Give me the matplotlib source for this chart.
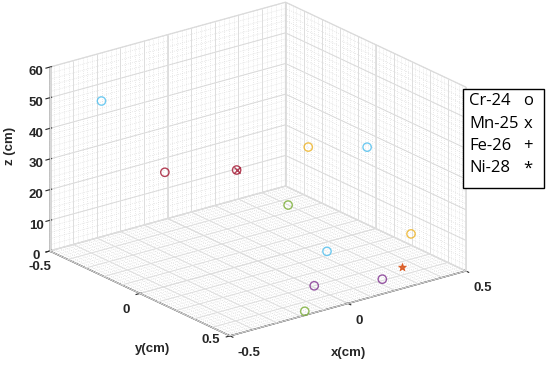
import numpy as np
import matplotlib.pyplot as plt
from matplotlib.patches import Rectangle
from mpl_toolkits.mplot3d.art3d import Line3DCollection

plt.rcParams['font.family'] = ['Liberation Sans', 'DejaVu Sans']

# element legend
elements = ['Cr-24', 'Mn-25', 'Fe-26', 'Ni-28']
symbols = ['o', 'x', '+', '*']

# Cr-24 (circles)
cr_x = [-0.38, -0.18, 0.025, 0.26, 0.33, 0.225, 0.39, 0.24, 0.01, 0.23, -0.16]
cr_y = [-0.37, -0.28, -0.15, -0.06, 0.175, -0.126, 0.34, 0.07, 0.30, 0.39, 0.47]
cr_z = [50, 25, 25, 30, 35, 10, 10, 0, 0, 0, 0]
cr_colors = ['#4DBEEE', '#A2142F', '#A2142F', '#EDB120', '#4DBEEE', '#77AC30',
             '#EDB120', '#4DBEEE', '#7E2F8E', '#7E2F8E', '#77AC30']

# Mn-25 (x)
mn_x = [0.025]
mn_y = [-0.15]
mn_z = [25]

# Ni-28 (*)
ni_x = [0.35]
ni_y = [0.34]
ni_z = [0]

fig = plt.figure(figsize=(5.5, 3.66), dpi=100)
ax = fig.add_axes([-0.1574, -0.0935, 1.23, 1.23], projection='3d', proj_type='ortho')
ax.computed_zorder = False
ax.set_box_aspect((1, 1, 0.664))
ax.view_init(elev=21.1, azim=52.6)
ax.set_xlim(0.5, -0.5)
ax.set_ylim(-0.5, 0.5)
ax.set_zlim(0, 60)

for axis in (ax.xaxis, ax.yaxis, ax.zaxis):
    axis.pane.set_facecolor('white')
    axis.pane.set_edgecolor('#d8d8d8')
    axis.line.set_color('#333333')
    axis.line.set_linewidth(1.0)
    axis._axinfo['grid']['color'] = '#dcdcdc'
    axis._axinfo['grid']['linewidth'] = 0.7

ax.set_xticks([-0.5, 0, 0.5])
ax.set_yticks([-0.5, 0, 0.5])
ax.set_zticks([0, 10, 20, 30, 40, 50, 60])
ax.set_xticklabels(['-0.5', '0', '0.5'])
ax.set_yticklabels(['-0.5', '0', '0.5'])
ax.tick_params(labelsize=9.5, colors='#262626')
ax.xaxis.set_tick_params(pad=-1)
ax.yaxis.set_tick_params(pad=-1)
ax.zaxis.set_tick_params(pad=-2.5)
for lab in ax.get_xticklabels() + ax.get_yticklabels() + ax.get_zticklabels():
    lab.set_fontweight('bold')
for lab in ax.get_xticklabels():
    lab.set_ha('left')
ylabs = ax.get_yticklabels()
ylabs[1].set_ha('right')
ylabs[2].set_ha('right')
ylabs[2].set_va('bottom')

# axis titles
fig.text(10 / 550, 1 - 146 / 366, 'z (cm)', fontsize=9.5, fontweight='bold',
         rotation=90, ha='center', va='center', color='#262626')
fig.text(153 / 550, 1 - 349 / 366, 'y(cm)', fontsize=9.5, fontweight='bold',
         ha='center', va='center', color='#262626')
fig.text(349 / 550, 1 - 353 / 366, 'x(cm)', fontsize=9.5, fontweight='bold',
         ha='center', va='center', color='#262626')

# grid lines every 0.1 (solid) and minor dotted lines
major = []
minor = []
for v in np.arange(-0.5, 0.501, 0.1):
    major.append([(v, -0.5, 0), (v, -0.5, 60)])
    major.append([(0.5, v, 0), (0.5, v, 60)])
    major.append([(v, -0.5, 0), (v, 0.5, 0)])
    major.append([(-0.5, v, 0), (0.5, v, 0)])
for v in np.arange(-0.5, 0.501, 0.02):
    minor.append([(v, -0.5, 0), (v, -0.5, 60)])
    minor.append([(0.5, v, 0), (0.5, v, 60)])
    minor.append([(v, -0.5, 0), (v, 0.5, 0)])
    minor.append([(-0.5, v, 0), (0.5, v, 0)])
for zz in np.arange(0, 60.1, 2):
    minor.append([(-0.5, -0.5, zz), (0.5, -0.5, zz)])
    minor.append([(0.5, -0.5, zz), (0.5, 0.5, zz)])
ax.add_collection3d(Line3DCollection(minor, colors='#d6d6d6', linewidths=0.5,
                                     linestyles=(0, (1, 2)), zorder=1))
ax.add_collection3d(Line3DCollection(major, colors='#dedede', linewidths=0.7, zorder=2))

ax.scatter(cr_x, cr_y, cr_z, marker='o', s=36, facecolors='none',
           edgecolors=cr_colors, linewidths=1.0, alpha=0.8, depthshade=False, zorder=5)
ax.scatter(mn_x, mn_y, mn_z, marker='x', s=20, c='#A2142F', alpha=0.8,
           linewidths=1.0, depthshade=False, zorder=6)
ax.scatter(ni_x, ni_y, ni_z, marker='*', s=30, c='#D95319', alpha=0.85,
           linewidths=0.8, depthshade=False, zorder=6)

# legend box
fig.patches.append(Rectangle((463 / 550, 1 - 188 / 366), 81 / 550, 99 / 366,
                             transform=fig.transFigure, facecolor='white',
                             edgecolor='black', linewidth=1.0))
for i, (el, sym) in enumerate(zip(elements, symbols)):
    yy = 1 - (101 + 22.5 * i) / 366
    fig.text(469 / 550, yy, el, fontsize=12, family='Open Sans', va='center')
    fig.text(528 / 550, yy, sym, fontsize=12, family='Open Sans', va='center', ha='center')

fig.savefig('out.png', dpi=100)
